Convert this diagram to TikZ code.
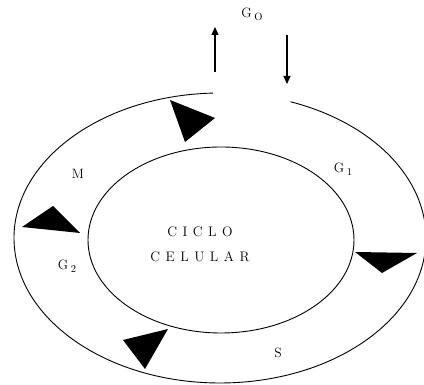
\documentclass[tikz,border=0pt]{standalone}
\usepackage{fontspec}
\usetikzlibrary{positioning, arrows.meta, shapes.geometric}
\newcommand{\phaselbl}[2]{#1\kern2.5pt\raisebox{-0.55ex}{\fontsize{10.5}{10}\selectfont #2}}
\makeatletter
\newcommand{\spreadtxt}[1]{\@tfor\ch:=#1\do{\ch\kern5.5pt}\kern-5.5pt}
\makeatother

\begin{document}
\begin{tikzpicture}[
      x=1pt, y=1pt,
      ring/.style={line width=0.9pt},
      wedge/.style={fill=black},
      flow/.style={line width=1.1pt, -{Triangle[length=8pt, width=7pt]}},
      lbl/.style={font=\fontsize{13.5}{15}\selectfont, inner sep=0pt}
  ]
    \useasboundingbox (0,0) rectangle (424,385);
    % rings
    \draw[ring] (220,147) ++(92:206 and 145) arc[start angle=92, end angle=430, x radius=206, y radius=145];
    \node[ring, draw, ellipse, minimum width=266, minimum height=186, inner sep=0pt]
          (ciclo) at (221,145) {};
    \node[font=\fontsize{13.8}{25}\selectfont, align=center, inner sep=0pt]
          (cicloname) at (200,141) {\spreadtxt{CICLO}\\\spreadtxt{CELULAR}};
    % direction marks
    \fill[wedge] (170,285) -- (185,243) -- (215,267) -- cycle;
    \fill[wedge] (22,158) -- (53,179) -- (80,152) -- cycle;
    \fill[wedge] (355,133) -- (417,132) -- (382,112) -- cycle;
    \fill[wedge] (123,45) -- (168,56) -- (145,16) -- cycle;
    % phases
    \node[lbl] (m) at (78,211) {M};
    \node[lbl] (g1) at (343,216) {\phaselbl{G}{1}};
    \node[lbl] (g2) at (67,119) {\phaselbl{G}{2}};
    \node[lbl] (s) at (278,32) {S};
    \node[lbl] (g0) at (252,371) {\phaselbl{G}{O}};
    % exit and entry of G0
    \coordinate (outA) at (215,313);
    \coordinate (outB) at (215,358);
    \coordinate (inA) at (287,350);
    \coordinate (inB) at (287,301);
    \draw[flow] (outA) -- (outB);
    \draw[flow] (inA) -- (inB);
\end{tikzpicture}
\end{document}
